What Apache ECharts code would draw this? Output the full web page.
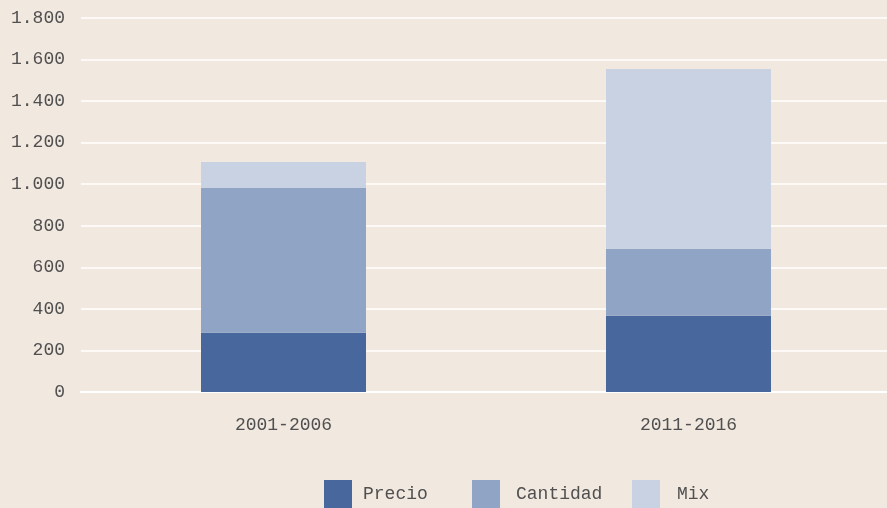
<!DOCTYPE html>
<html>
<head>
<meta charset="utf-8">
<script src="https://cdn.jsdelivr.net/npm/echarts@6/dist/echarts.min.js"></script>
<style>
html,body{margin:0;padding:0;background:#f1e8df;}
#c{width:887px;height:508px;}
</style>
</head>
<body>
<div id="c"></div>
<script>
const categories = ['2001-2006', '2011-2016'];
const precio = [285, 367];
const cantidad = [697, 322];
const mix = [125, 865];
const seriesNames = ['Precio', 'Cantidad', 'Mix'];
const colors = ['#48679d', '#90a4c5', '#c9d2e2'];

const FONT = 'Liberation Mono';
const TXT = '#505050';
const chart = echarts.init(document.getElementById('c'), null, {renderer: 'canvas'});
const fmt = v => String(v).replace(/\B(?=(\d{3})+(?!\d))/g, '.');
const mk = (name, data, i) => ({
  name, type: 'bar', stack: 'total', data, barWidth: 165,
  itemStyle: {color: colors[i]}, emphasis: {disabled: true}
});
const legendLefts = [324, 472, 632];
const legendPads = [6, 11, 12];
const legends = seriesNames.map((n, i) => ({
  data: [n], top: 480, left: legendLefts[i], padding: 0,
  itemWidth: 28, itemHeight: 28, icon: 'rect', selectedMode: false,
  textStyle: {fontFamily: FONT, fontSize: 18, color: TXT, padding: [0, 0, 0, legendPads[i]]}
}));
chart.setOption({
  backgroundColor: '#f1e8df',
  animation: false,
  grid: {left: 81, width: 810, top: 18, bottom: 116, outerBoundsMode: 'none', containLabel: false},
  legend: legends,
  xAxis: {
    type: 'category', data: categories,
    axisLine: {show: true, lineStyle: {color: '#ffffff', width: 2}},
    axisTick: {show: false},
    axisLabel: {fontFamily: FONT, fontSize: 18, color: TXT, margin: 24}
  },
  yAxis: {
    type: 'value', min: 0, max: 1800, interval: 200,
    axisLine: {show: false}, axisTick: {show: false},
    splitLine: {lineStyle: {color: '#ffffff', width: 1.5}},
    axisLabel: {fontFamily: FONT, fontSize: 18, color: TXT, margin: 16, formatter: fmt}
  },
  series: [mk('Precio', precio, 0), mk('Cantidad', cantidad, 1), mk('Mix', mix, 2)]
});
</script>
</body>
</html>
